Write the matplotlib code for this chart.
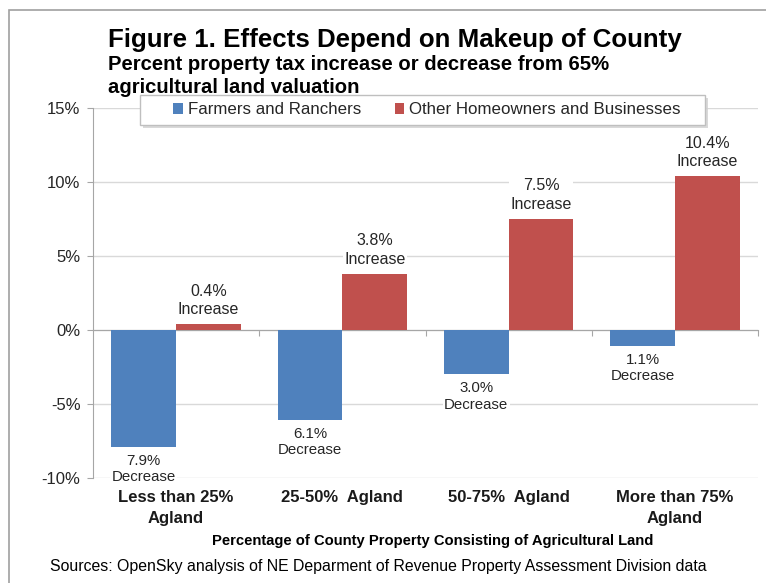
import matplotlib
matplotlib.use("Agg")
import matplotlib.pyplot as plt
import matplotlib.transforms as mtransforms
from matplotlib.patches import Rectangle
import numpy as np

plt.rcParams['font.family'] = ['Liberation Sans', 'DejaVu Sans']

# data
categories = ['Less than 25%\nAgland', '25-50%  Agland', '50-75%  Agland', 'More than 75%\nAgland']
farmers = [-7.9, -6.1, -3.0, -1.1]
others = [0.4, 3.8, 7.5, 10.4]
farmer_labels = ['7.9%\nDecrease', '6.1%\nDecrease', '3.0%\nDecrease', '1.1%\nDecrease']
other_labels = ['0.4%\nIncrease', '3.8%\nIncrease', '7.5%\nIncrease', '10.4%\nIncrease']
yticks = [-10, -5, 0, 5, 10, 15]
ytick_labels = ['-10%', '-5%', '0%', '5%', '10%', '15%']

BLUE = '#4F81BD'
RED = '#C0504D'
W, H = 766, 583

fig = plt.figure(figsize=(W / 100, H / 100), dpi=100)
ax = fig.add_axes([93 / W, 1 - 478 / H, (758 - 93) / W, (478 - 108) / H])

x = np.arange(len(categories))
bw = 0.39
ax.bar(x - bw / 2, farmers, bw, color=BLUE, label='Farmers and Ranchers', zorder=3)
ax.bar(x + bw / 2, others, bw, color=RED, label='Other Homeowners and Businesses', zorder=3)

box = dict(facecolor='white', edgecolor='none', pad=1)
for xi, v, lab in zip(x - bw / 2, farmers, farmer_labels):
    ax.annotate(lab, (xi, v), xytext=(0, -5), textcoords='offset points',
                ha='center', va='top', fontsize=10.8, color='#262626',
                linespacing=1.2, bbox=box, zorder=4)
for xi, v, lab in zip(x + bw / 2, others, other_labels):
    ax.annotate(lab, (xi, v), xytext=(0, 5), textcoords='offset points',
                ha='center', va='bottom', fontsize=11.5, color='#262626',
                linespacing=1.3, bbox=box, zorder=4)

ax.set_xlim(-0.5, 3.5)
ax.set_ylim(-10, 15)
ax.set_yticks(yticks)
ax.set_yticklabels(ytick_labels, fontsize=12, color='#262626')
ax.yaxis.grid(True, color='#D9D9D9', lw=1, zorder=0)
ax.set_axisbelow(True)

for s in ['top', 'right']:
    ax.spines[s].set_visible(False)
ax.spines['left'].set_color('#A6A6A6')
ax.spines['bottom'].set_position(('data', 0))
ax.spines['bottom'].set_color('#A6A6A6')
ax.tick_params(axis='y', length=4, color='#A6A6A6', pad=5)
ax.set_xticks([0.5, 1.5, 2.5, 3.5])
ax.set_xticklabels([])
ax.tick_params(axis='x', length=4, color='#A6A6A6', direction='out')

# category labels under the plot area
trans = mtransforms.blended_transform_factory(ax.transData, fig.transFigure)
for xi, cat in zip(x, categories):
    ax.text(xi, 1 - 490 / H, cat, transform=trans, ha='center', va='top',
            fontsize=12, fontweight='bold', linespacing=1.5, color='#1a1a1a')

# legend box drawn by hand (with a soft shadow), legend itself frameless
lx0, ly0, lx1, ly1 = 140, 95, 705, 125
fig.add_artist(Rectangle(((lx0 + 3) / W, 1 - (ly1 + 3) / H), (lx1 - lx0) / W, (ly1 - ly0) / H,
                         transform=fig.transFigure, facecolor='#D0D0D0', edgecolor='none',
                         alpha=0.8, zorder=5))
fig.add_artist(Rectangle((lx0 / W, 1 - ly1 / H), (lx1 - lx0) / W, (ly1 - ly0) / H,
                         transform=fig.transFigure, facecolor='white', edgecolor='#BFBFBF',
                         lw=1, zorder=6))
leg = fig.legend(loc='center', bbox_to_anchor=(427 / W, 1 - 110 / H),
                 ncol=2, fontsize=12.2, frameon=False,
                 handlelength=0.55, handleheight=0.55, handletextpad=0.3,
                 columnspacing=2.0, borderpad=0, borderaxespad=0)
leg.set_zorder(7)
for t in leg.get_texts():
    t.set_color('#262626')

fig.text(108 / W, 1 - 47 / H, 'Figure 1. Effects Depend on Makeup of County',
         fontsize=18.6, fontweight='bold', va='baseline', ha='left')
fig.text(108 / W, 1 - 70 / H, 'Percent property tax increase or decrease from 65%',
         fontsize=14.6, fontweight='bold', va='baseline', ha='left')
fig.text(108 / W, 1 - 93 / H, 'agricultural land valuation',
         fontsize=14.6, fontweight='bold', va='baseline', ha='left')

fig.text(433 / W, 1 - 541 / H, 'Percentage of County Property Consisting of Agricultural Land',
         fontsize=10.6, fontweight='bold', ha='center', va='center')
fig.text(50 / W, 1 - 566 / H,
         'Sources: OpenSky analysis of NE Deparment of Revenue Property Assessment Division data',
         fontsize=11.4, ha='left', va='center')

# grey frame of the original graphic
fig.add_artist(Rectangle((9 / W, -0.1), 2, 1 - 10 / H + 0.1, transform=fig.transFigure,
                         fill=False, edgecolor='#A0A0A0', lw=1.2))

fig.savefig('out.png', dpi=100)
